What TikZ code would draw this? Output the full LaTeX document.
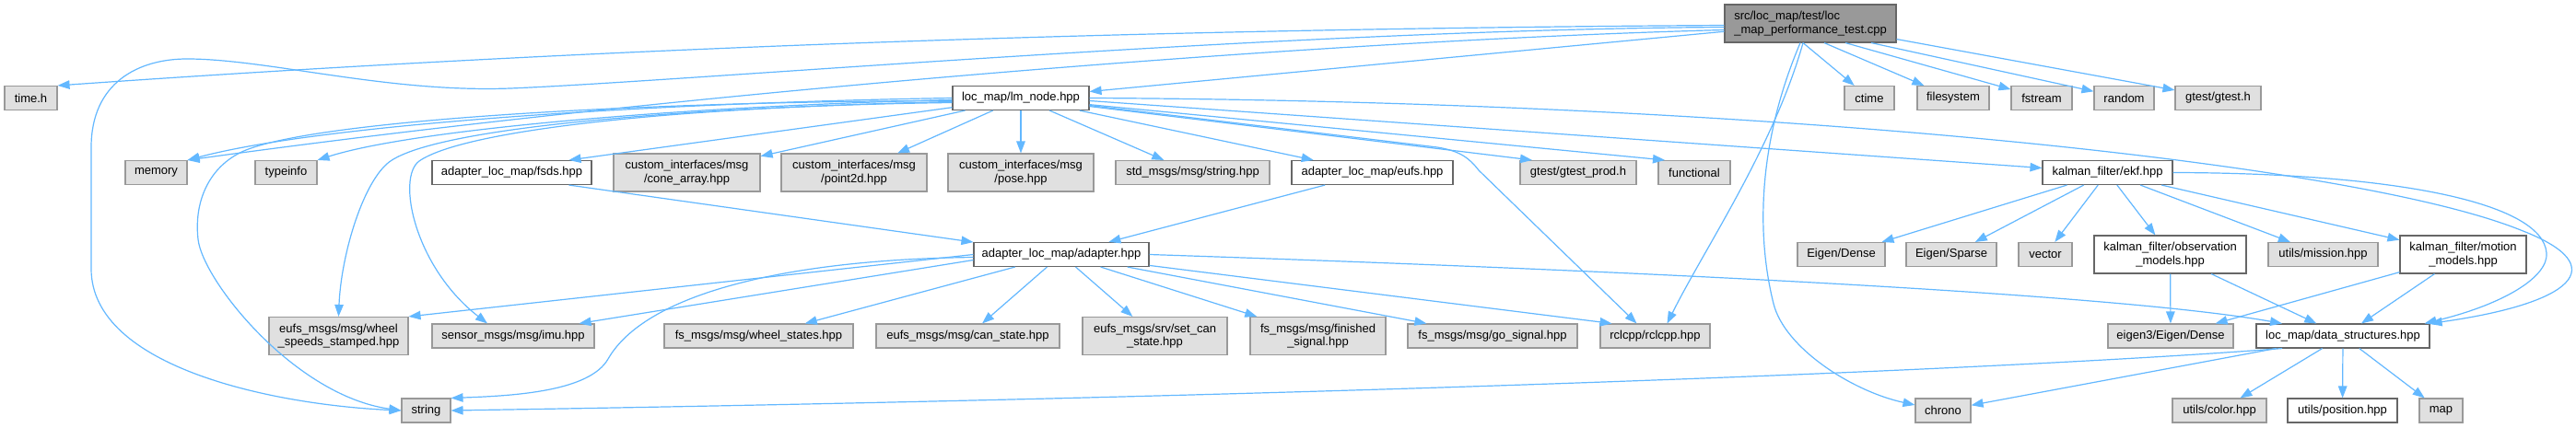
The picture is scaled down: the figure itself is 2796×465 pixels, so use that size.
\documentclass[tikz,border=0pt]{standalone}
\usepackage{fontspec}
\setmainfont{Liberation Sans}
\usetikzlibrary{arrows.meta}
\definecolor{edgeblue}{HTML}{63B8FF}
\definecolor{boxgray}{HTML}{E0E0E0}
\definecolor{boxline}{HTML}{999999}
\definecolor{darkline}{HTML}{666666}
\begin{document}
\begin{tikzpicture}[x=1pt, y=-1pt,
    gbox/.style={draw=boxline, fill=boxgray, line width=1.1pt, inner sep=0pt, minimum height=26pt, align=center, font=\fontsize{13}{14.5}\selectfont},
    wbox/.style={gbox, draw=darkline, fill=white},
    mbox/.style={gbox, draw=darkline, fill=boxline, align=left},
    tall/.style={minimum height=41pt},
    incl/.style={draw=edgeblue, line width=1.2pt, -{Triangle[length=13pt,width=9.5pt]}}]
    \fill[white] (0,0) rectangle (2796,465);
    \useasboundingbox (0,0) rectangle (2796,465);
    % rank 1 and 2
    \node[mbox, tall, minimum width=186pt] (main) at (1965,25.5) {src/loc\_map/test/loc\\\_map\_performance\_test.cpp};
    \node[gbox, minimum width=57pt] (timeh) at (33.5,106.5) {time.h};
    \node[wbox, minimum width=148pt] (lmnode) at (1108,106.5) {loc\_map/lm\_node.hpp};
    \node[gbox, minimum width=54pt] (ctime) at (2029,106.5) {ctime};
    \node[gbox, minimum width=78pt] (fsys) at (2120,106.5) {filesystem};
    \node[gbox, minimum width=66pt] (fstrm) at (2216,106.5) {fstream};
    \node[gbox, minimum width=65pt] (rnd) at (2305.5,106.5) {random};
    \node[gbox, minimum width=93pt] (gtest) at (2407.5,106.5) {gtest/gtest.h};
    % rank 3
    \node[gbox, minimum width=67pt] (memory) at (169.5,187.5) {memory};
    \node[gbox, minimum width=67pt] (typeinfo) at (310.5,187.5) {typeinfo};
    \node[wbox, minimum width=173pt] (fsds) at (555.5,187.5) {adapter\_loc\_map/fsds.hpp};
    \node[gbox, tall, minimum width=159pt] (cone) at (745.5,187.5) {custom\_interfaces/msg\\/cone\_array.hpp};
    \node[gbox, tall, minimum width=158pt] (pointtwod) at (927,187.5) {custom\_interfaces/msg\\/point2d.hpp};
    \node[gbox, tall, minimum width=158pt] (pose) at (1108,187.5) {custom\_interfaces/msg\\/pose.hpp};
    \node[gbox, minimum width=167pt] (stdstr) at (1294.5,187.5) {std\_msgs/msg/string.hpp};
    \node[wbox, minimum width=175pt] (eufs) at (1489.5,187.5) {adapter\_loc\_map/eufs.hpp};
    \node[gbox, minimum width=126pt] (gprod) at (1713,187.5) {gtest/gtest\_prod.h};
    \node[gbox, minimum width=78pt] (functional) at (1839,187.5) {functional};
    \node[wbox, minimum width=141pt] (ekf) at (2287.5,187.5) {kalman\_filter/ekf.hpp};
    % rank 4
    \node[wbox, minimum width=190pt] (adapter) at (1152,276.5) {adapter\_loc\_map/adapter.hpp};
    \node[gbox, minimum width=95pt] (edense) at (1998.5,276.5) {Eigen/Dense};
    \node[gbox, minimum width=98pt] (esparse) at (2118,276.5) {Eigen/Sparse};
    \node[gbox, minimum width=58pt] (vector) at (2220,276.5) {vector};
    \node[wbox, tall, minimum width=165pt] (obsm) at (2355.5,276.5) {kalman\_filter/observation\\\_models.hpp};
    \node[gbox, minimum width=119pt] (mission) at (2521.5,276.5) {utils/mission.hpp};
    \node[wbox, tall, minimum width=137pt] (motm) at (2673.5,276.5) {kalman\_filter/motion\\\_models.hpp};
    % rank 5
    \node[gbox, tall, minimum width=151pt] (wheelsp) at (367.5,365) {eufs\_msgs/msg/wheel\\\_speeds\_stamped.hpp};
    \node[gbox, minimum width=176pt] (imu) at (557,365) {sensor\_msgs/msg/imu.hpp};
    \node[gbox, minimum width=205pt] (wstates) at (823.5,365) {fs\_msgs/msg/wheel\_states.hpp};
    \node[gbox, minimum width=199pt] (canst) at (1050.5,365) {eufs\_msgs/msg/can\_state.hpp};
    \node[gbox, tall, minimum width=157pt] (setcan) at (1253.5,365) {eufs\_msgs/srv/set\_can\\\_state.hpp};
    \node[gbox, tall, minimum width=147pt] (finsig) at (1430.5,365) {fs\_msgs/msg/finished\\\_signal.hpp};
    \node[gbox, minimum width=184pt] (gosig) at (1620,365) {fs\_msgs/msg/go\_signal.hpp};
    \node[gbox, minimum width=119pt] (rclcpp) at (1796.5,365) {rclcpp/rclcpp.hpp};
    \node[gbox, minimum width=136pt] (eigthree) at (2356,365) {eigen3/Eigen/Dense};
    \node[wbox, minimum width=188pt] (dstruct) at (2543,365) {loc\_map/data\_structures.hpp};
    % rank 6
    \node[gbox, minimum width=53pt] (string) at (462.5,446) {string};
    \node[gbox, minimum width=60pt] (chrono) at (2109,446) {chrono};
    \node[gbox, minimum width=102pt] (color) at (2409,446) {utils/color.hpp};
    \node[wbox, minimum width=119pt] (position) at (2542.5,446) {utils/position.hpp};
    \node[gbox, minimum width=47pt] (map) at (2649.5,446) {map};

    % includes of the test file
    \draw[incl] ([yshift=-2pt]main.west) .. controls (1300,31) and (700,48) .. (timeh.north east);
    \draw[incl] ([yshift=-4pt]main.west) .. controls (1400,32) and (750,88) .. (554,96) .. controls (420,101) and (290,64) .. (203,64) .. controls (150,64) and (99,90) .. (99,160) -- (99,292) .. controls (99,400) and (300,440) .. (string.west);
    \draw[incl] ([yshift=-7pt]main.west) .. controls (1400,45) and (700,105) .. (memory.north east);
    \draw[incl] (main) -- (lmnode);
    \draw[incl] ([xshift=-8pt]main.south) -- (ctime);
    \draw[incl] ([xshift=15pt]main.south) -- (fsys);
    \draw[incl] ([xshift=38pt]main.south) -- (fstrm);
    \draw[incl] ([xshift=66pt]main.south) -- (rnd);
    \draw[incl] ([yshift=4pt]main.south east) -- (gtest);
    \draw[incl] ([xshift=-8pt]main.south) .. controls (1925,160) and (1850,270) .. ([xshift=13pt]rclcpp.north);
    \draw[incl] ([xshift=-11pt]main.south) .. controls (1910,150) and (1905,250) .. (1925,330) .. controls (1937,378) and (2010,425) .. ([yshift=6pt]chrono.west);

    % includes of lm_node.hpp
    \draw[incl] (lmnode.west) .. controls (700,112) and (350,135) .. (memory.north east);
    \draw[incl] ([yshift=-2pt]lmnode.west) .. controls (750,115) and (450,140) .. (typeinfo.north east);
    \draw[incl] ([yshift=-3pt]lmnode.west) .. controls (700,110) and (350,130) .. (267,163) .. controls (230,178) and (210,215) .. (215,260) .. controls (220,305) and (320,430) .. (string.west);
    \draw[incl] ([yshift=-4pt]lmnode.west) .. controls (700,118) and (460,142) .. (420,178) .. controls (392,203) and (370,280) .. (wheelsp.north);
    \draw[incl] ([yshift=-5pt]lmnode.west) .. controls (750,115) and (505,140) .. (455,175) .. controls (430,193) and (450,290) .. ([xshift=-28pt]imu.north);
    \draw[incl] (lmnode) -- ([xshift=62pt]fsds.north);
    \draw[incl] (lmnode) -- (cone);
    \draw[incl] (lmnode) -- (pointtwod);
    \draw[incl] (lmnode) -- (pose);
    \draw[incl] (lmnode) -- (stdstr);
    \draw[incl] (lmnode) -- (eufs);
    \draw[incl] ([yshift=-8pt]lmnode.east) -- (1560,160) .. controls (1585,164) and (1595,172) .. (1605,185) -- ([xshift=-20pt]rclcpp.north);
    \draw[incl] (lmnode) -- ([xshift=-50pt]gprod.north);
    \draw[incl] (lmnode) -- ([xshift=-32pt]functional.north);
    \draw[incl] ([yshift=-3pt]lmnode.east) -- (ekf);
    \draw[incl] (lmnode.east) .. controls (1900,110) and (2550,175) .. (2736,250) .. controls (2840,290) and (2790,330) .. (dstruct.north east);

    % fsds.hpp and eufs.hpp
    \draw[incl] ([xshift=62pt]fsds.south) -- (adapter);
    \draw[incl] (eufs) -- (adapter);

    % includes of adapter.hpp
    \draw[incl] (adapter.west) -- (wheelsp.north east);
    \draw[incl] ([yshift=-6pt]adapter.west) -- ([xshift=-17pt]imu.north east);
    \draw[incl] ([yshift=-3pt]adapter.west) .. controls (850,282) and (700,320) .. (660,390) .. controls (640,425) and (560,430) .. (string.north east);
    \draw[incl] (adapter) -- (wstates);
    \draw[incl] (adapter) -- (canst);
    \draw[incl] (adapter) -- (setcan);
    \draw[incl] (adapter) -- (finsig);
    \draw[incl] (adapter) -- (gosig);
    \draw[incl] (adapter) -- ([xshift=-47pt]rclcpp.north);
    \draw[incl] (adapter.east) .. controls (1800,295) and (2300,320) .. ([xshift=-66pt]dstruct.north);

    % includes of ekf.hpp
    \draw[incl] (ekf) -- (edense);
    \draw[incl] (ekf) -- (esparse);
    \draw[incl] (ekf) -- (vector);
    \draw[incl] (ekf) -- (obsm);
    \draw[incl] (ekf) -- (mission);
    \draw[incl] (ekf) -- (motm);
    \draw[incl] (ekf.east) .. controls (2600,188) and (2760,220) .. (2764,275) .. controls (2766,300) and (2720,330) .. ([xshift=-6pt]dstruct.north east);

    % models
    \draw[incl] (obsm) -- (eigthree);
    \draw[incl] (obsm) -- (dstruct);
    \draw[incl] (motm) -- (eigthree);
    \draw[incl] (motm) -- (dstruct);

    % includes of data_structures.hpp
    \draw[incl] (dstruct) -- (color);
    \draw[incl] (dstruct) -- (position);
    \draw[incl] (dstruct) -- (map);
    \draw[incl] (dstruct) -- (chrono);
    \draw[incl] ([xshift=-66pt]dstruct.south) .. controls (2200,400) and (1500,430) .. (string.east);
\end{tikzpicture}
\end{document}
